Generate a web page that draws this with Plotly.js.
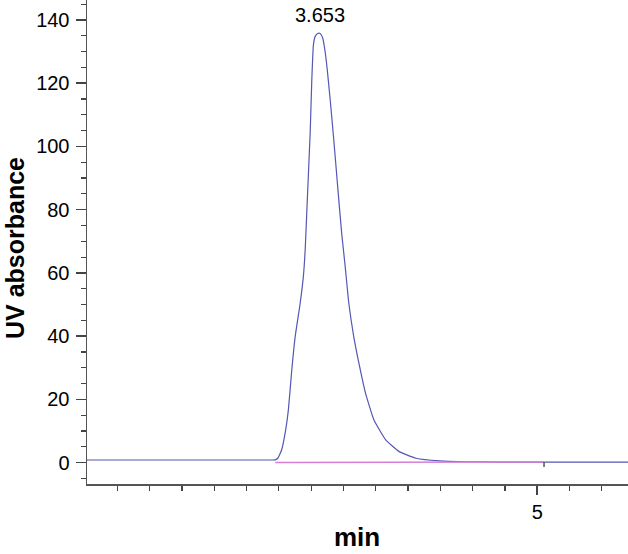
<!DOCTYPE html>
<html>
<head>
<meta charset="utf-8">
<script src="https://cdn.plot.ly/plotly-3.0.1.min.js"></script>
<style>html,body{margin:0;padding:0;background:#fff;}#chart{width:628px;height:554px;}</style>
</head>
<body>
<div id="chart"></div>
<script>
// Chromatogram signal (retention time in min, UV absorbance)
const timeMin = [2.212, 3.300, 3.360, 3.378, 3.393, 3.417, 3.442, 3.459, 3.480, 3.501, 3.532, 3.552, 3.563, 3.576, 3.594, 3.604, 3.614, 3.625, 3.640, 3.653, 3.662, 3.672, 3.685, 3.698, 3.718, 3.740, 3.768, 3.789, 3.811, 3.833, 3.864, 3.896, 3.937, 3.989, 4.062, 4.145, 4.249, 4.394, 4.560, 4.768, 5.042, 5.562];
const absorbance = [0.85, 0.85, 0.85, 0.9, 1.4, 4.0, 10.3, 16.7, 29.3, 39.8, 50.4, 59.0, 67.3, 83.0, 104.3, 121.0, 132.1, 134.8, 135.7, 135.8, 135.3, 134.2, 130.5, 125.1, 114.7, 102.1, 85.0, 72.6, 61.9, 50.5, 39.8, 31.4, 21.9, 13.5, 7.2, 3.5, 1.4, 0.55, 0.3, 0.2, 0.2, 0.2];
// Integration baseline
const baseTime = [3.378, 5.042];
const baseValue = [0.06, 0.2];
// Peak label
const peakTime = 3.653;
const peakLabel = "3.653";
const xTitle = "min";
const yTitle = "UV absorbance";

const font = "Liberation Sans, Arial, Helvetica, sans-serif";

const traces = [
  {x: timeMin, y: absorbance, type: "scatter", mode: "lines",
   line: {color: "#5656b4", width: 1.2, shape: "spline", smoothing: 0.4}, hoverinfo: "x+y"},
  {x: baseTime, y: baseValue, type: "scatter", mode: "lines",
   line: {color: "#d77fd7", width: 1.5}, hoverinfo: "skip"}
];

const layout = {
  width: 628, height: 554,
  margin: {l: 87, r: 0, t: 0, b: 70},
  paper_bgcolor: "#fff", plot_bgcolor: "#fff",
  showlegend: false,
  font: {family: font, size: 20, color: "#000"},
  xaxis: {
    range: [2.212, 5.562], tick0: 0, dtick: 5,
    showgrid: false, zeroline: false,
    showline: true, linecolor: "#555", linewidth: 1.5,
    ticks: "outside", ticklen: 9, tickcolor: "#444", tickwidth: 1.5,
    tickfont: {family: font, size: 20, color: "#000"},
    minor: {dtick: 0.2, tick0: 0, ticks: "outside", ticklen: 5, tickcolor: "#444", tickwidth: 1.2, showgrid: false}
  },
  yaxis: {
    range: [-6.74, 146.3], tick0: 0, dtick: 20,
    showgrid: false, zeroline: false,
    showline: true, linecolor: "#555", linewidth: 1.5,
    ticks: "outside", ticklen: 10, tickcolor: "#444", tickwidth: 1.5,
    tickfont: {family: font, size: 20, color: "#000"},
    ticklabelstandoff: 2,
    minor: {dtick: 5, tick0: 0, ticks: "outside", ticklen: 5, tickcolor: "#444", tickwidth: 1.2, showgrid: false}
  },
  shapes: [
    {type: "line", xref: "x", yref: "y", x0: baseTime[1], x1: baseTime[1], y0: baseValue[1], y1: baseValue[1] - 1.6,
     line: {color: "#555", width: 1.5}}
  ],
  annotations: [
    {x: peakTime, y: 141.7, xref: "x", yref: "y", text: peakLabel, showarrow: false,
     xanchor: "center", yanchor: "middle", font: {family: font, size: 20, color: "#000"}},
    {x: (357 - 87) / 541, y: -(553 - 484) / 484, xref: "paper", yref: "paper", text: "<b>" + xTitle + "</b>",
     showarrow: false, xanchor: "center", yanchor: "bottom", borderpad: 0,
     font: {family: font, size: 26, color: "#000"}},
    {x: -87 / 541, y: (484 - 248) / 484, xref: "paper", yref: "paper", text: "<b>" + yTitle + "</b>",
     showarrow: false, textangle: -90, xanchor: "left", yanchor: "middle", borderpad: 0,
     font: {family: font, size: 25, color: "#000"}}
  ]
};

Plotly.newPlot("chart", traces, layout, {displayModeBar: false, staticPlot: true});
</script>
</body>
</html>
